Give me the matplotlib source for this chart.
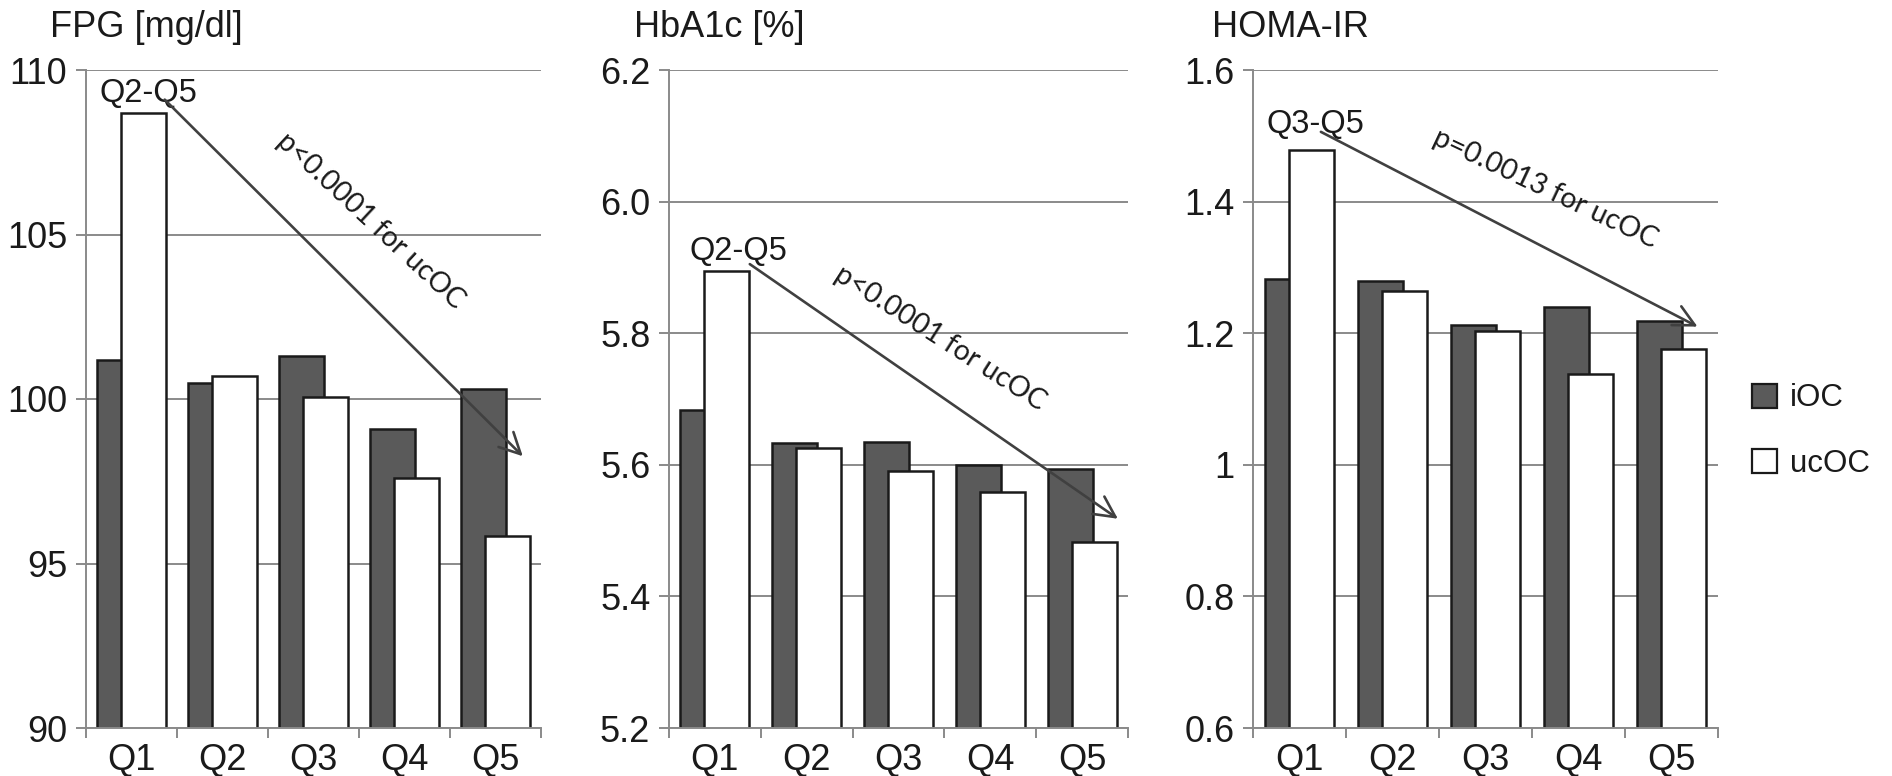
import matplotlib
matplotlib.use("Agg")
import matplotlib.pyplot as plt
import numpy as np
from matplotlib.patches import Patch

plt.rcParams['font.family'] = ['Liberation Sans', 'DejaVu Sans']

quintiles = ["Q1", "Q2", "Q3", "Q4", "Q5"]

fpg_ioc = [101.2, 100.5, 101.3, 99.1, 100.3]
fpg_ucoc = [108.7, 100.7, 100.05, 97.6, 95.85]

hba1c_ioc = [5.683, 5.633, 5.635, 5.599, 5.593]
hba1c_ucoc = [5.894, 5.626, 5.590, 5.558, 5.483]

homa_ioc = [1.282, 1.279, 1.213, 1.240, 1.219]
homa_ucoc = [1.478, 1.264, 1.204, 1.138, 1.176]

titles = ["FPG [mg/dl]", "HbA1c [%]", "HOMA-IR"]
yticks = [[90, 95, 100, 105, 110],
          [5.2, 5.4, 5.6, 5.8, 6.0, 6.2],
          [0.6, 0.8, 1.0, 1.2, 1.4, 1.6]]
ytick_labels = [["90", "95", "100", "105", "110"],
                ["5.2", "5.4", "5.6", "5.8", "6.0", "6.2"],
                ["0.6", "0.8", "1", "1.2", "1.4", "1.6"]]

range_labels = ["Q2-Q5", "Q2-Q5", "Q3-Q5"]
p_labels = ["p<0.0001 for ucOC", "p<0.0001 for ucOC", "p=0.0013 for ucOC"]
# range label (left x, baseline y), arrow start, arrow end, p-text centre
range_pos = [(-0.35, 109.02), (-0.28, 5.911), (-0.36, 1.504)]
arrow_start = [(0.365, 109.1), (0.38, 5.905), (0.23, 1.506)]
arrow_end = [(4.30, 98.26), (4.39, 5.518), (4.28, 1.210)]
p_pos = [(2.63, 105.42), (2.456, 5.792), (2.64, 1.42)]

series = [(fpg_ioc, fpg_ucoc), (hba1c_ioc, hba1c_ucoc), (homa_ioc, homa_ucoc)]

W, H = 1892, 776
fig = plt.figure(figsize=(W / 100, H / 100), dpi=100)

panel_px = [(86, 455), (669, 459), (1253, 465)]
top_px, bottom_px = 70, 728
title_x_px = [50, 634, 1212]

grid_col = "#8a8a8a"
dark = "#5a5a5a"
edge = "#1a1a1a"
txt = "#1a1a1a"
arrow_col = "#404040"
fs = 26
fs_legend = 22.5
fs_range = 23.5
fs_p = 20.5

x = np.arange(len(quintiles))
bw = 0.49
off = 0.13

for i, (ioc, ucoc) in enumerate(series):
    left, width = panel_px[i]
    ax = fig.add_axes([left / W, 1 - bottom_px / H, width / W, (bottom_px - top_px) / H])
    ax.set_xlim(-0.5, 4.5)
    ax.set_ylim(yticks[i][0], yticks[i][-1])

    ax.bar(x - off, ioc, bw, color=dark, edgecolor=edge, linewidth=1.8, zorder=3)
    ax.bar(x + off, ucoc, bw, color="white", edgecolor=edge, linewidth=1.8, zorder=4)

    ax.set_yticks(yticks[i])
    ax.set_yticklabels(ytick_labels[i])
    ax.yaxis.grid(True, color=grid_col, linewidth=1.4, zorder=0)
    ax.set_axisbelow(True)

    ax.set_xticks(x)
    ax.set_xticklabels(quintiles)
    ax.set_xticks(np.arange(-0.5, 5.0, 1.0), minor=True)
    ax.tick_params(axis="x", which="major", length=0, pad=11, labelsize=fs, labelcolor=txt)
    ax.tick_params(axis="x", which="minor", length=7.5, width=1.4, color=grid_col, direction="out")
    ax.tick_params(axis="y", length=7.5, width=1.4, color=grid_col, pad=6, labelsize=fs, labelcolor=txt)

    for s in ("top", "right"):
        ax.spines[s].set_visible(False)
    for s in ("left", "bottom"):
        ax.spines[s].set_color(grid_col)
        ax.spines[s].set_linewidth(1.4)
    ax.spines["bottom"].set_zorder(5)

    fig.text(title_x_px[i] / W, 1 - 37 / H, titles[i], fontsize=fs, color=txt,
             ha="left", va="baseline")

    # range label and trend arrow
    ax.text(range_pos[i][0], range_pos[i][1], range_labels[i], fontsize=fs_range, color=txt,
            ha="left", va="baseline", zorder=6)
    ax.annotate("", xy=arrow_end[i], xytext=arrow_start[i],
                arrowprops=dict(arrowstyle="->,head_length=0.75,head_width=0.38",
                                mutation_scale=20, color=arrow_col, lw=1.9,
                                shrinkA=0, shrinkB=0),
                zorder=7)

    fig.canvas.draw()
    p0 = ax.transData.transform(arrow_start[i])
    p1 = ax.transData.transform(arrow_end[i])
    ang = np.degrees(np.arctan2(p1[1] - p0[1], p1[0] - p0[0]))
    ax.text(p_pos[i][0], p_pos[i][1], p_labels[i], fontsize=fs_p,
            family=["Lato", "DejaVu Sans"], color=txt,
            rotation=ang + 2, rotation_mode="anchor", ha="center", va="center", zorder=6)

handles = [Patch(facecolor=dark, edgecolor=edge, linewidth=1.6),
           Patch(facecolor="white", edgecolor=edge, linewidth=1.6)]
fig.legend(handles, ["iOC", "ucOC"], loc="center left",
           bbox_to_anchor=(1752 / W, 1 - 431 / H), frameon=False,
           fontsize=fs_legend, handlelength=0.8, handleheight=0.8, handletextpad=0.4,
           labelspacing=1.12, borderpad=0, borderaxespad=0, labelcolor=txt)

fig.savefig("out.png", dpi=100)
